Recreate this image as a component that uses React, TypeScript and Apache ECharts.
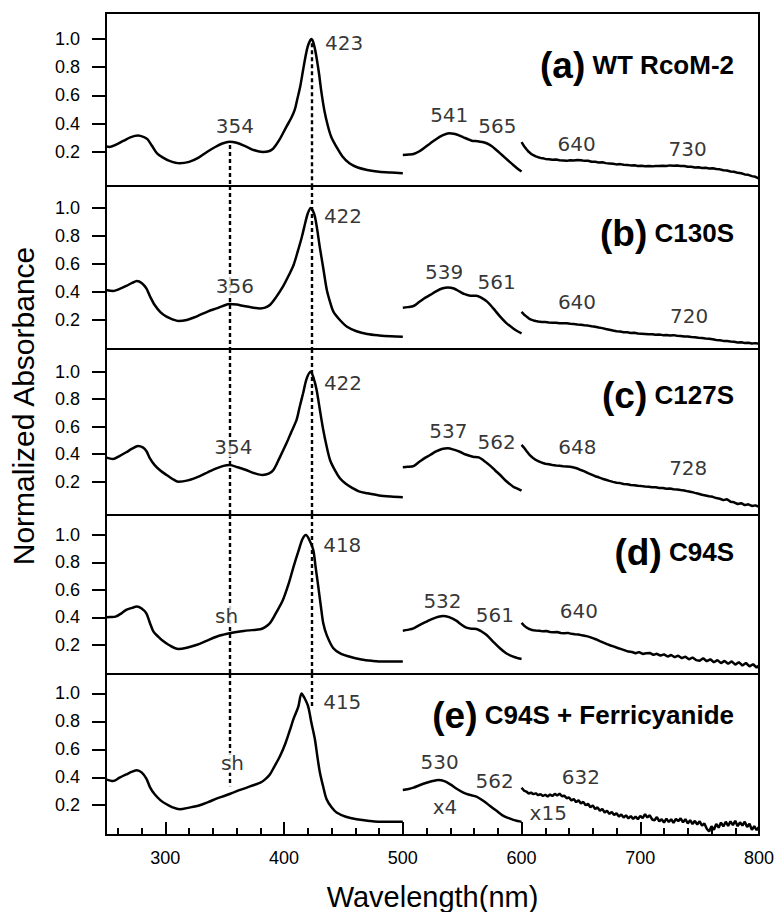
import React, { useEffect, useRef } from "react";
import * as echarts from "echarts";

// ---------- axis / layout values ----------
const X_MIN = 250;
const X_MAX = 800;
const Y_TICKS = [0.2, 0.4, 0.6, 0.8, 1.0];
const X_MAJOR_TICKS = [300, 400, 500, 600, 700, 800];
const X_MINOR_TICKS = [260, 280, 320, 340, 360, 380, 420, 440, 460, 480, 520, 540, 560, 580, 620, 640, 660, 680, 720, 740, 760, 780];
const Y_MIN = [-0.041, -0.007, -0.042, -0.011, -0.013];
const Y_MAX = [1.184, 1.157, 1.165, 1.145, 1.139];

const PANEL_LETTERS = ["(a)", "(b)", "(c)", "(d)", "(e)"];
const PANEL_NAMES = ["WT RcoM-2", "C130S", "C127S", "C94S", "C94S + Ferricyanide"];

// ---------- spectra: UV/Soret region (250-500 nm) ----------
const uvA = [[250,0.238],[253,0.235],[258,0.25],[265,0.28],[271,0.305],[277,0.316],[282,0.305],[285,0.29],[289,0.24],[293,0.19],[298,0.16],[304,0.135],[312,0.12],[320,0.13],[328,0.16],[335,0.2],[342,0.235],[348,0.26],[354,0.273],[360,0.265],[368,0.238],[375,0.212],[382,0.2],[387,0.205],[391,0.226],[396,0.285],[402,0.38],[406,0.44],[409,0.5],[411,0.57],[413.5,0.66],[416,0.78],[418,0.875],[420,0.95],[422,0.99],[423,1.0],[424.5,0.98],[426,0.93],[427.5,0.86],[429.5,0.75],[431.5,0.62],[434,0.49],[437,0.38],[440,0.3],[444,0.238],[449,0.17],[455,0.12],[462,0.09],[470,0.073],[480,0.06],[490,0.054],[500,0.05]];
const uvB = [[250,0.414],[256,0.407],[261,0.42],[267,0.443],[272,0.465],[276,0.479],[280,0.465],[284,0.426],[287,0.37],[291,0.307],[296,0.255],[301,0.224],[306,0.205],[311,0.193],[318,0.2],[324,0.218],[329,0.236],[336,0.262],[343,0.283],[349,0.302],[354,0.314],[360,0.31],[366,0.3],[373,0.29],[380,0.283],[384,0.288],[388,0.307],[393,0.36],[399,0.438],[404,0.52],[408,0.593],[411.5,0.69],[415,0.795],[418,0.9],[420,0.962],[422.4,1.0],[424,0.985],[426,0.938],[428,0.84],[430,0.724],[433,0.57],[436,0.414],[439,0.32],[441.5,0.26],[447,0.2],[453,0.152],[461,0.12],[470,0.1],[480,0.09],[490,0.084],[500,0.081]];
const uvC = [[250,0.377],[256,0.365],[261,0.385],[267,0.414],[272,0.44],[277,0.46],[281,0.45],[284,0.423],[287,0.37],[291,0.321],[296,0.28],[301,0.249],[306,0.22],[311,0.2],[319,0.21],[329,0.241],[336,0.27],[343,0.297],[349,0.315],[354,0.321],[361,0.305],[368,0.285],[375,0.262],[382,0.249],[387,0.258],[391,0.285],[396,0.37],[402,0.479],[406,0.56],[410.5,0.649],[413,0.74],[416,0.843],[419,0.95],[422.4,1.0],[425,0.95],[427.4,0.867],[430,0.73],[433,0.576],[436,0.45],[438.7,0.358],[443,0.28],[447,0.225],[452,0.185],[458,0.152],[463,0.13],[470,0.116],[480,0.1],[490,0.092],[500,0.087]];
const uvD = [[250,0.401],[254,0.403],[258,0.406],[263,0.43],[267,0.455],[272,0.47],[276,0.479],[280,0.465],[284,0.43],[287,0.36],[290,0.297],[294,0.26],[297,0.236],[303,0.2],[311,0.171],[318,0.18],[326,0.2],[334,0.228],[343,0.26],[349,0.275],[354,0.285],[360,0.295],[366,0.302],[373,0.308],[380,0.314],[384,0.33],[388,0.358],[393,0.43],[399,0.527],[404,0.65],[408,0.77],[412,0.88],[415.5,0.97],[418.4,1.0],[421.5,0.96],[424.6,0.891],[426.5,0.77],[428.8,0.624],[431,0.48],[433,0.358],[436,0.27],[441.5,0.176],[448,0.135],[455.5,0.115],[465,0.095],[474,0.085],[483.5,0.079],[500,0.079]];
const uvE = [[250,0.385],[256,0.373],[261,0.395],[267,0.42],[272,0.44],[276,0.451],[280,0.435],[284,0.39],[287,0.33],[291,0.278],[296,0.235],[301,0.207],[306,0.185],[312,0.171],[320,0.183],[329,0.2],[336,0.222],[343,0.247],[350,0.268],[357,0.29],[363,0.31],[368.5,0.326],[374,0.343],[380,0.361],[384,0.385],[388,0.42],[392,0.48],[396.5,0.55],[401,0.64],[405,0.74],[408,0.82],[412,0.906],[414.7,1.0],[417,0.97],[420.3,0.906],[423,0.79],[426,0.669],[428,0.55],[430.2,0.432],[433,0.33],[435.8,0.243],[440,0.185],[444.2,0.148],[452,0.118],[461,0.1],[472,0.088],[483.5,0.081],[500,0.081]];

// ---------- Q-band region (500-600 nm, x4) ----------
const visA = [[500,0.179],[505,0.182],[509,0.186],[514,0.205],[519,0.235],[523,0.26],[528,0.29],[533,0.315],[539,0.333],[544,0.327],[548,0.315],[551,0.304],[555,0.29],[558,0.28],[563,0.276],[567,0.27],[571,0.26],[575,0.24],[579,0.212],[582,0.19],[586,0.16],[590,0.13],[593,0.108],[597,0.08],[600,0.062]];
const visB = [[500,0.288],[504,0.292],[509,0.3],[514,0.33],[519,0.36],[523,0.379],[528,0.405],[533,0.425],[538,0.433],[543,0.425],[548,0.402],[552,0.385],[557,0.374],[562,0.374],[566,0.36],[571,0.331],[576,0.285],[582,0.224],[587,0.18],[593,0.14],[597,0.118],[600,0.105]];
const visC = [[500,0.305],[504,0.308],[509,0.314],[514,0.345],[519,0.375],[523,0.394],[528,0.42],[533,0.438],[538,0.443],[543,0.433],[548,0.418],[553,0.398],[559,0.382],[564,0.377],[568,0.355],[573,0.321],[578,0.28],[582,0.249],[587,0.205],[593,0.164],[597,0.148],[600,0.135]];
const visD = [[500,0.304],[504,0.31],[509,0.321],[514,0.345],[520,0.37],[525,0.39],[530,0.405],[534,0.411],[539,0.402],[545,0.377],[549,0.35],[553.5,0.326],[558,0.318],[562,0.316],[566,0.3],[570.6,0.273],[576,0.225],[581.8,0.176],[587,0.14],[593,0.115],[597,0.104],[600,0.098]];
const visE = [[500,0.309],[504,0.315],[509,0.326],[514,0.343],[520,0.361],[525,0.373],[530,0.38],[535,0.372],[540,0.349],[545,0.32],[551,0.29],[556,0.275],[562,0.262],[568,0.23],[573.5,0.195],[579,0.16],[584.7,0.124],[589,0.108],[593,0.095],[597,0.087],[600,0.081]];

// ---------- charge-transfer region (600-800 nm, x15) ----------
const nirA = [[600,0.27],[602,0.243],[604,0.221],[606,0.201],[608,0.187],[610,0.177],[612,0.169],[614,0.163],[616,0.158],[618,0.155],[620,0.151],[623,0.149],[626,0.145],[629,0.146],[632,0.141],[635,0.14],[638,0.137],[641,0.142],[644,0.139],[647,0.143],[650,0.141],[653,0.137],[656,0.138],[659,0.131],[662,0.13],[665,0.126],[668,0.127],[671,0.121],[674,0.119],[677,0.117],[680,0.112],[683,0.114],[686,0.109],[689,0.108],[692,0.105],[695,0.106],[698,0.101],[701,0.103],[704,0.099],[707,0.1],[710,0.098],[713,0.101],[716,0.1],[719,0.103],[722,0.101],[725,0.105],[728,0.103],[731,0.104],[734,0.1],[737,0.101],[740,0.096],[743,0.095],[746,0.09],[749,0.091],[752,0.087],[755,0.088],[758,0.083],[761,0.085],[764,0.079],[767,0.077],[770,0.07],[773,0.069],[776,0.062],[779,0.06],[782,0.052],[785,0.049],[788,0.041],[791,0.038],[794,0.029],[797,0.024],[800,0.012]];
const nirB = [[600,0.258],[602,0.24],[604,0.226],[606,0.212],[608,0.203],[610,0.197],[612,0.193],[614,0.19],[617,0.186],[620,0.185],[623,0.182],[626,0.18],[629,0.181],[632,0.177],[635,0.176],[638,0.177],[641,0.173],[644,0.171],[647,0.168],[650,0.166],[653,0.162],[656,0.16],[659,0.155],[662,0.152],[665,0.146],[668,0.142],[671,0.136],[674,0.131],[677,0.125],[680,0.12],[683,0.118],[686,0.113],[689,0.112],[692,0.108],[695,0.109],[698,0.104],[701,0.102],[704,0.1],[707,0.098],[710,0.099],[713,0.095],[716,0.096],[719,0.092],[722,0.093],[725,0.089],[728,0.092],[731,0.088],[734,0.086],[737,0.083],[740,0.082],[743,0.078],[746,0.077],[749,0.073],[752,0.071],[755,0.068],[758,0.066],[761,0.062],[764,0.058],[767,0.056],[770,0.051],[773,0.05],[776,0.046],[779,0.044],[782,0.04],[785,0.041],[788,0.036],[791,0.038],[794,0.032],[797,0.035],[800,0.031]];
const nirC = [[600,0.468],[602,0.448],[604,0.425],[606,0.403],[608,0.385],[610,0.37],[612,0.358],[614,0.35],[616,0.342],[618,0.336],[620,0.331],[623,0.327],[626,0.322],[629,0.318],[632,0.316],[635,0.313],[638,0.311],[641,0.309],[644,0.303],[647,0.296],[650,0.285],[653,0.275],[656,0.262],[659,0.251],[662,0.24],[665,0.232],[668,0.222],[671,0.214],[674,0.206],[677,0.199],[680,0.193],[683,0.19],[686,0.184],[689,0.182],[692,0.176],[695,0.175],[698,0.17],[701,0.168],[704,0.165],[707,0.163],[710,0.16],[713,0.159],[716,0.155],[719,0.154],[722,0.149],[725,0.15],[728,0.145],[731,0.143],[734,0.139],[737,0.136],[740,0.13],[743,0.126],[746,0.119],[749,0.113],[752,0.105],[755,0.1],[758,0.094],[761,0.09],[764,0.081],[767,0.076],[770,0.066],[773,0.072],[776,0.055],[779,0.05],[782,0.038],[785,0.044],[788,0.03],[791,0.036],[794,0.024],[797,0.028],[800,0.018]];
const nirD = [[600,0.36],[602,0.342],[604,0.328],[606,0.318],[608,0.311],[610,0.307],[612,0.305],[615,0.303],[618,0.299],[621,0.301],[624,0.295],[627,0.292],[630,0.294],[633,0.287],[636,0.285],[639,0.288],[642,0.281],[645,0.278],[648,0.276],[651,0.27],[654,0.266],[657,0.259],[660,0.25],[663,0.24],[666,0.228],[669,0.217],[672,0.206],[675,0.196],[678,0.188],[681,0.178],[684,0.17],[687,0.161],[690,0.152],[693,0.149],[696,0.14],[699,0.148],[702,0.135],[705,0.14],[708,0.142],[711,0.128],[714,0.136],[717,0.122],[720,0.132],[723,0.116],[726,0.127],[729,0.111],[732,0.122],[735,0.104],[738,0.115],[741,0.096],[744,0.109],[747,0.09],[750,0.085],[753,0.104],[756,0.082],[759,0.096],[762,0.074],[765,0.09],[768,0.068],[771,0.084],[774,0.064],[777,0.081],[780,0.057],[783,0.075],[786,0.051],[789,0.069],[792,0.044],[795,0.06],[798,0.036],[800,0.052]];
const nirE = [[600,0.325],[602,0.305],[604,0.298],[606,0.284],[608,0.29],[610,0.279],[612,0.285],[614,0.272],[616,0.279],[618,0.266],[620,0.275],[622,0.263],[624,0.277],[626,0.266],[628,0.281],[630,0.27],[632,0.283],[634,0.264],[636,0.268],[638,0.25],[640,0.256],[642,0.234],[644,0.245],[646,0.222],[648,0.236],[650,0.212],[652,0.224],[654,0.2],[656,0.21],[658,0.186],[660,0.199],[662,0.173],[664,0.185],[666,0.16],[668,0.174],[670,0.148],[672,0.16],[674,0.138],[676,0.152],[678,0.13],[680,0.143],[682,0.12],[684,0.134],[686,0.112],[688,0.128],[690,0.106],[692,0.122],[694,0.102],[696,0.118],[698,0.1],[700,0.124],[702,0.108],[704,0.136],[706,0.113],[708,0.128],[710,0.098],[712,0.092],[714,0.116],[716,0.084],[718,0.1],[720,0.076],[722,0.104],[724,0.08],[726,0.1],[728,0.074],[730,0.103],[732,0.086],[734,0.106],[736,0.078],[738,0.1],[740,0.07],[742,0.093],[744,0.066],[746,0.088],[748,0.062],[750,0.085],[752,0.054],[754,0.07],[756,0.032],[758,0.012],[760,0.05],[762,0.024],[764,0.066],[766,0.04],[768,0.076],[770,0.048],[772,0.082],[774,0.052],[776,0.085],[778,0.058],[780,0.088],[782,0.05],[784,0.078],[786,0.055],[788,0.082],[790,0.044],[792,0.068],[794,0.024],[796,0.05],[798,0.022],[800,0.045]];

// ---------- peak annotations [wavelength, absorbance, text] ----------
const labelsA = [[358.6, 0.386, "354"], [450.6, 0.973, "423"], [539.1, 0.459, "541"], [579.7, 0.383, "565"], [646.4, 0.256, "640"], [739.8, 0.22, "730"]];
const labelsB = [[358.6, 0.441, "356"], [449.6, 0.941, "422"], [534.8, 0.544, "539"], [579.0, 0.468, "561"], [646.7, 0.331, "640"], [741.2, 0.227, "720"]];
const labelsC = [[357.2, 0.451, "354"], [449.6, 0.919, "422"], [538.3, 0.572, "537"], [579.0, 0.491, "562"], [647.1, 0.449, "648"], [740.4, 0.3, "728"]];
const labelsD = [[351.6, 0.412, "sh"], [449.0, 0.929, "418"], [533.4, 0.521, "532"], [577.6, 0.42, "561"], [648.2, 0.445, "640"]];
const labelsE = [[356.5, 0.503, "sh"], [449.0, 0.936, "415"], [531.0, 0.507, "530"], [577.4, 0.376, "562"], [650.0, 0.403, "632"], [535.5, 0.189, "x4"], [622.5, 0.142, "x15"]];

// ---------- dotted guide lines ----------
const GUIDE_X = [354, 423];
const GUIDE_354 = [[0.25, -0.041], [1.157, -0.007], [1.165, -0.042], [1.145, -0.011], [1.139, 0.335]];
const GUIDE_423 = [[0.97, -0.041], [1.157, -0.007], [1.165, -0.042], [1.145, -0.011], [1.139, 0.897]];

const UV = [uvA, uvB, uvC, uvD, uvE];
const VIS = [visA, visB, visC, visD, visE];
const NIR = [nirA, nirB, nirC, nirD, nirE];
const LABELS = [labelsA, labelsB, labelsC, labelsD, labelsE];

// layout (pixels)
const GRID_TOP = [13, 186, 349, 515, 674];
const GRID_HEIGHT = [173, 163, 166, 159, 162];
const TITLE_Y = [65, 233, 395, 552, 715];

const FONT = "Liberation Sans";

export default function App() {
  const ref = useRef<HTMLDivElement>(null);
  useEffect(() => {
    if (!ref.current) return;
    const chart = echarts.init(ref.current, undefined, { renderer: "svg" });

    const grids = GRID_TOP.map((t, i) => ({
      left: 106,
      right: 19,
      top: t,
      height: GRID_HEIGHT[i],
      show: true,
      borderColor: "#000",
      borderWidth: 2,
      backgroundColor: "transparent",
    }));

    const xAxes: any[] = GRID_TOP.map((_, i) => {
      const last = i === 4;
      return {
        type: "value",
        gridIndex: i,
        min: X_MIN,
        max: X_MAX,
        position: "bottom",
        show: true,
        splitLine: { show: false },
        axisLine: { show: true, onZero: false, lineStyle: { color: "#000", width: 2 } },
        axisTick: last
          ? { show: true, inside: true, length: 13, customValues: X_MAJOR_TICKS, lineStyle: { color: "#000", width: 2 } }
          : { show: false },
        axisLabel: last
          ? {
              show: true,
              customValues: X_MAJOR_TICKS,
              formatter: (v: number) => (v % 100 === 0 ? String(v) : ""),
              fontSize: 18,
              fontFamily: FONT,
              color: "#000",
              margin: 14,
            }
          : { show: false },
        name: last ? "Wavelength(nm)" : "",
        nameLocation: "middle",
        nameGap: 47,
        nameTextStyle: { fontSize: 29, fontFamily: FONT, color: "#000" },
      };
    });
    xAxes.push({
      type: "value",
      gridIndex: 4,
      min: X_MIN,
      max: X_MAX,
      position: "bottom",
      splitLine: { show: false },
      axisLine: { show: false, onZero: false },
      axisLabel: { show: false },
      axisTick: { show: true, inside: true, length: 7, customValues: X_MINOR_TICKS, lineStyle: { color: "#000", width: 2 } },
    });

    const yAxes = GRID_TOP.map((_, i) => ({
      type: "value",
      gridIndex: i,
      min: Y_MIN[i],
      max: Y_MAX[i],
      position: "left",
      splitLine: { show: false },
      axisLine: { show: true, onZero: false, lineStyle: { color: "#000", width: 2 } },
      axisTick: { show: true, inside: false, length: 14, customValues: Y_TICKS, lineStyle: { color: "#000", width: 2 } },
      axisLabel: {
        show: true,
        customValues: Y_TICKS,
        formatter: (v: number) => v.toFixed(1),
        fontSize: 18,
        fontFamily: FONT,
        color: "#000",
        margin: 26,
      },
    }));

    const series: any[] = [];
    const lineBase = {
      type: "line",
      showSymbol: false,
      symbol: "none",
      lineStyle: { color: "#000", width: 2.5 },
      clip: true,
      silent: true,
    };
    for (let i = 0; i < 5; i++) {
      series.push({
        ...lineBase,
        xAxisIndex: i,
        yAxisIndex: i,
        smooth: 0.3,
        data: UV[i],
        markLine: {
          silent: true,
          symbol: "none",
          label: { show: false },
          lineStyle: { color: "#000", type: [4, 3], width: 2.4, opacity: 1 },
          emphasis: { disabled: true },
          data: [
            [{ coord: [GUIDE_X[0], GUIDE_354[i][0]] }, { coord: [GUIDE_X[0], GUIDE_354[i][1]] }],
            [{ coord: [GUIDE_X[1], GUIDE_423[i][0]] }, { coord: [GUIDE_X[1], GUIDE_423[i][1]] }],
          ],
        },
      });
      series.push({ ...lineBase, xAxisIndex: i, yAxisIndex: i, smooth: 0.3, data: VIS[i] });
      series.push({ ...lineBase, xAxisIndex: i, yAxisIndex: i, smooth: false, data: NIR[i] });
      series.push({
        type: "scatter",
        xAxisIndex: i,
        yAxisIndex: i,
        symbolSize: 0,
        silent: true,
        z: 10,
        data: LABELS[i].map((l) => ({ name: l[2], value: [l[0], l[1]] })),
        label: {
          show: true,
          position: "inside",
          formatter: "{b}",
          fontSize: 20,
          fontFamily: "DejaVu Sans",
          color: "#000",
          backgroundColor: "#fff",
          padding: [0, 1],
        },
      });
    }

    const graphics: any[] = PANEL_LETTERS.map((p, i) => ({
      type: "text",
      x: 734,
      y: TITLE_Y[i],
      silent: true,
      style: {
        text: `{p|${p}} {n|${PANEL_NAMES[i]}}`,
        textAlign: "right",
        textVerticalAlign: "middle",
        fontSize: 26,
        fontFamily: FONT,
        fill: "#000",
        rich: {
          p: { fontSize: 37, fontWeight: "bold", fontFamily: FONT, fill: "#000" },
          n: { fontSize: 26, fontWeight: "bold", fontFamily: FONT, fill: "#000" },
        },
      },
    }));
    graphics.push({
      type: "text",
      x: 23,
      y: 406,
      rotation: Math.PI / 2,
      silent: true,
      style: {
        text: "Normalized Absorbance",
        textAlign: "center",
        textVerticalAlign: "middle",
        fontSize: 30,
        fontFamily: FONT,
        fill: "#000",
      },
    });

    chart.setOption({
      animation: false,
      backgroundColor: "#fff",
      grid: grids,
      xAxis: xAxes,
      yAxis: yAxes,
      series,
      graphic: graphics,
    });
    return () => chart.dispose();
  }, []);

  return <div ref={ref} style={{ position: "absolute", left: 0, top: 0, width: 778, height: 912 }} />;
}
